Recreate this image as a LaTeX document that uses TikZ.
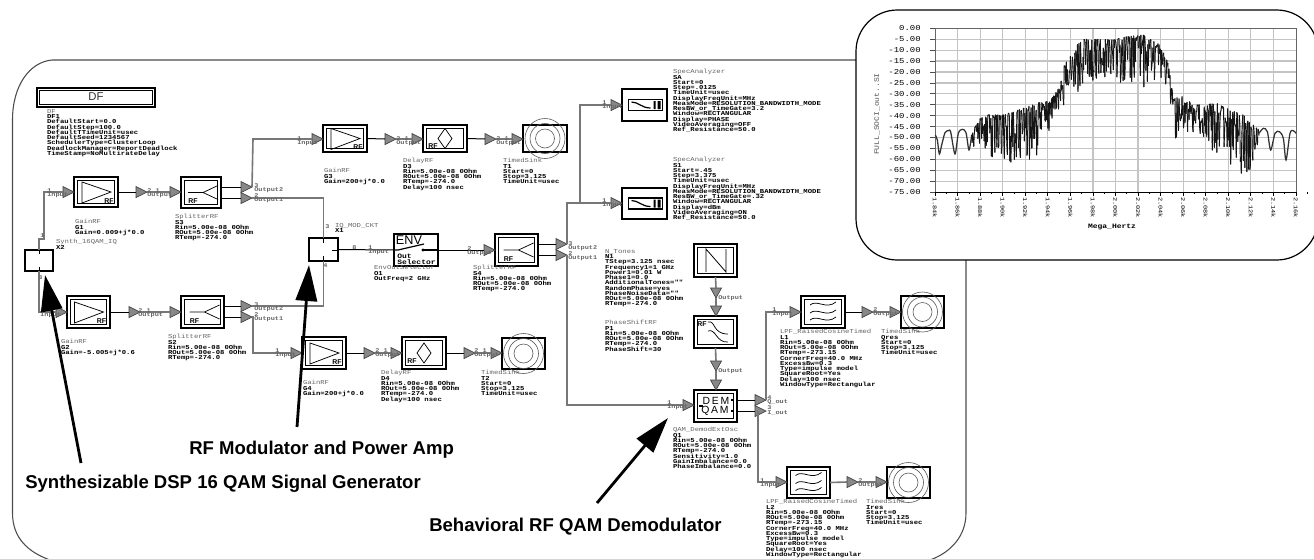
\documentclass[tikz,border=0pt]{standalone}
\usepackage{fontspec}
\setmainfont{Liberation Sans}
\newfontfamily\sch[FakeStretch=1.2]{Liberation Mono}
\usetikzlibrary{arrows.meta}
\definecolor{wg}{HTML}{777777}
\definecolor{hdr}{HTML}{666666}
\definecolor{gridc}{HTML}{C4C4C4}
\definecolor{pinc}{HTML}{888888}
\newcounter{ln}
\newcommand\schfont{\sch\bfseries\fontsize{4.53}{3.94}\selectfont}
\newcommand\envfont{\sch\bfseries\fontsize{5}{4.4}\selectfont}
\tikzset{
  blockbox/.style={draw=black,line width=1.35pt,inner sep=0pt,outer sep=0pt,fill=white},
  innerbox/.style={draw=black,line width=.6pt},
  pinst/.style={draw=black!75,line width=.5pt,fill=pinc},
  wireg/.style={draw=wg,line width=1.2pt},
  wirek/.style={draw=black,line width=.75pt},
  icon/.style={draw=black,line width=.55pt},
  sinkc/.style={draw=black!65,line width=.45pt},
  lbl/.style={anchor=north west,inner sep=0pt,outer sep=0pt,align=left,font=\schfont},
  plab/.style={anchor=west,inner sep=0pt,text=hdr,font=\sch\bfseries\fontsize{4.3}{4}\selectfont},
  rftxt/.style={inner sep=0pt,font=\bfseries\fontsize{5.2}{5}\selectfont},
  bigtxt/.style={anchor=west,inner sep=0pt,font=\bfseries\fontsize{13.9}{15}\selectfont},
  plottxt/.style={inner sep=0pt,font=\sch\fontsize{5.6}{6}\selectfont},
  annot/.style={line width=2.1pt,-{Triangle[length=27pt,width=16pt]}},
  trace/.style={draw=black!92,line width=.7pt,line cap=round},
  trace2/.style={draw=black!80,line width=.95pt},
}
% auto-named text node
\newcommand\txt[4]{\stepcounter{ln}\node[#1] (au\arabic{ln}) at (#2,#3) {#4};}
% schematic label: x, centre y of first line, grey header, remaining lines
\lineskiplimit=-5pt
\newcommand\lbl[4]{\stepcounter{ln}\node[lbl] (au\arabic{ln}) at (#1,#2-2.6) {\textcolor{hdr}{\mdseries #3}\\#4};}
\newcommand\plab[4]{\txt{plab}{#1}{#2-4.5}{#3}\txt{plab}{#1}{#2+.5}{#4}}
% blocks
\newcommand\blk[5]{\node[blockbox,minimum width={(#4-#2)*.75pt},minimum height={(#5-#3)*.75pt}] (#1) at ({(#2+#4)/2},{(#3+#5)/2}) {};}
\newcommand\blkd[5]{\blk{#1}{#2}{#3}{#4}{#5}\draw[innerbox] (#2+3.5,#3+3.5) rectangle (#4-3.5,#5-3.5);}
% pins
\newcommand\pinr[3]{\coordinate (#1) at (#2,#3);\coordinate (#1-b) at (#2-11,#3);\draw[pinst] (#2,#3) -- (#2-11,#3-5.5) -- (#2-11,#3+5.5) -- cycle;}
\newcommand\pind[3]{\coordinate (#1) at (#2,#3);\coordinate (#1-b) at (#2,#3-10);\draw[pinst] (#2,#3) -- (#2-5.5,#3-10) -- (#2+5.5,#3-10) -- cycle;}
% icons
\newcommand\ampicon[1]{\begin{scope}[shift={(#1.center)}]\draw[icon] (-14,-10) -- (-14,11) -- (15,0) -- cycle;\txt{rftxt}{13}{9}{RF}\end{scope}}
\newcommand\spliticon[1]{\begin{scope}[shift={(#1.center)}]\draw[icon] (-13,0) -- (2,0) (17,-7) -- (2,0) -- (17,7);\txt{rftxt}{-8}{9}{RF}\end{scope}}
\newcommand\delayicon[1]{\begin{scope}[shift={(#1.center)}]\draw[icon] (0,-10) -- (7,0) -- (0,10) -- (-7,0) -- cycle;\txt{rftxt}{-12}{8}{RF}\end{scope}}
\newcommand\sinkicon[1]{\begin{scope}[shift={(#1.center)}]\draw[sinkc] (0,0) circle (20) (0,0) circle (15) (0,0) circle (9.5);\end{scope}}
\newcommand\waveicon[1]{\begin{scope}[shift={(#1.center)}]\foreach \yy in {-7,1,8}{\draw[icon] (-13,\yy) .. controls (-6,\yy-6) and (3,\yy+5) .. (13,\yy-3);}\end{scope}}
\newcommand\specicon[1]{\begin{scope}[shift={(#1.center)}]\draw[draw=black,line width=1pt] (-16,-5.5) rectangle (18,5.5);\draw[draw=black,line width=.9pt] (-13,-3) .. controls (-6,-3) and (-3,3) .. (6,3);\fill[black] (9,-4) rectangle (11,4) (13,-4) rectangle (16,4);\end{scope}}
\begin{document}
\lineskiplimit=-5pt
\begin{tikzpicture}[x=.75pt,y=-.75pt]
\useasboundingbox (0,0) rectangle (1314,558);
\clip (0,0) rectangle (1314,558);
\fill[white] (0,0) rectangle (1314,558);
% outer boundary
\draw[draw=black!70,line width=.8pt] (12.5,120) .. controls (12.5,85) and (30,62) .. (52,60) -- (930,60) .. controls (950,62) and (966,85) .. (966,120) -- (966,513) .. controls (966,535) and (952,552) .. (930,560) -- (50,560) .. controls (28,552) and (12.5,538) .. (12.5,513) -- cycle;
% DF
\node[blockbox,minimum width=88.5pt,minimum height=14.25pt] (df) at (96,97.5) {};
\draw[innerbox,line width=.8pt] (39.5,90.5) rectangle (152.5,104.5);
\txt{inner sep=0pt,text=black!80,font=\fontsize{8.5}{9}\selectfont}{96}{97}{DF}
\lbl{47}{112}{DF}{DF1\\DefaultStart=0.0\\DefaultStep=100.0\\DefaultTTimeUnit=usec\\DefaultSeed=1234567\\SchedulerType=ClusterLoop\\DeadlockManager=ReportDeadlock\\TimeStamp=NoMultirateDelay}
% blocks
\blk{x1}{25}{250}{53}{271}
\blk{m1}{309}{238}{338}{261}
\blkd{g1}{74}{177}{118}{207}
\blkd{s1}{181}{177}{221}{208}
\blkd{g2}{67}{296}{110}{328}
\blkd{s2}{181}{296}{224}{328}
\blkd{g3}{323}{125}{367}{152}
\blkd{d3}{423}{125}{467}{152}
\blk{t1}{523}{125}{567}{152}
\blkd{g4}{302}{337}{346}{369}
\blkd{d4}{402}{337}{446}{369}
\blk{t2}{502}{338}{545}{369}
\blk{env}{394}{234}{438}{266}
\blkd{s4}{495}{234}{538}{266}
\blk{a1}{622}{89}{667}{121}
\blk{a2}{622}{188}{667}{219}
\blkd{nt}{694}{244}{737}{277}
\blkd{ps}{694}{316}{737}{348}
\blkd{dem}{694}{390}{737}{422}
\blkd{l1}{801}{296}{845}{328}
\blk{t3}{901}{296}{944}{328}
\blkd{l2}{787}{467}{830}{498}
\blk{t4}{887}{467}{930}{498}
% icons
\ampicon{g1}\ampicon{g2}\ampicon{g3}\ampicon{g4}
\spliticon{s1}\spliticon{s2}\spliticon{s4}
\delayicon{d3}\delayicon{d4}
\sinkicon{t1}\sinkicon{t2}\sinkicon{t3}\sinkicon{t4}
\waveicon{l1}\waveicon{l2}
\specicon{a1}\specicon{a2}
\draw[icon,line width=.7pt] (39,250) -- (39,254) (39,267) -- (39,271);
\draw[icon,line width=.7pt] (323,238) -- (323,243) (323,256) -- (323,261) (332,250) -- (338,250);
% ENV
\txt{inner sep=0pt,font=\fontsize{9.5}{10}\selectfont}{409}{240}{ENV}
\draw[icon,line width=.9pt] (394,250) -- (398,250) -- (424,244);
\fill[black] (423,250) circle (1.6);
\draw[icon,line width=.9pt] (423,250) -- (438,250);
\txt{inner sep=0pt,anchor=west,align=left,font=\envfont}{397}{259}{Out\\Selector}
% N
\draw[icon,line width=.6pt] (706,272) -- (706,249) -- (726,272) -- (726,249);
% phase shifter
\txt{rftxt}{702}{324}{RF}
\draw[icon] (708,322) .. controls (716,320) and (712,334) .. (728,334);
\draw[icon] (708,331) .. controls (716,328) and (716,343) .. (728,342);
% DEM
\txt{inner sep=0pt,font=\fontsize{7.8}{8}\selectfont}{716}{401}{D\,E\,M}
\txt{inner sep=0pt,font=\fontsize{7.8}{8}\selectfont}{715}{410.5}{Q\,A\,M}
\draw[icon,line width=.9pt] (712,393.5) -- (720,393.5) (699,406) -- (703,406) (731,400) -- (733,400) (732,410) -- (732,412);
% pins
\pinr{pg1}{74}{192}\pinr{pg1o}{147}{192}\pinr{ps1}{181}{192}
\pinr{ps1a}{252}{187}\pinr{ps1b}{252}{198}
\pinr{pg2}{67}{312}\pinr{pg2o}{140}{312}\pinr{ps2}{181}{312}
\pinr{ps2a}{252}{306}\pinr{ps2b}{252}{317}
\pinr{pg3}{323}{139}\pinr{pg3o}{396}{139}\pinr{pd3}{423}{139}\pinr{pd3o}{496}{139}\pinr{pt1}{523}{139}
\pinr{pg4}{302}{353}\pinr{pg4o}{375}{353}\pinr{pd4}{402}{353}\pinr{pd4o}{475}{353}\pinr{pt2}{502}{353}
\pinr{ps4}{495}{250}\pinr{ps4a}{567}{244}\pinr{ps4b}{567}{255}
\pinr{pa1}{622}{105}\pinr{pa2}{622}{203}
\pind{pn}{716}{298}\pind{pp}{716}{316}\pind{ppo}{716}{371}\pind{pq}{716}{390}
\pinr{pdi}{694}{405}\pinr{pdq}{766}{400}\pinr{pdo}{766}{411}
\pinr{pl1}{801}{312}\pinr{pl1o}{873}{312}\pinr{pt3}{901}{312}
\pinr{pl2}{787}{482}\pinr{pl2o}{858}{482}\pinr{pt4}{887}{482}
% wires
\coordinate (j1) at (44,239);
\draw[wireg] (x1.north) -- (39,239) -- (j1) |- (pg1-b);
\draw[wireg] (x1.south) |- (pg2-b);
\draw[wirek] (g1.east) -- (pg1o-b);\draw[wireg] (pg1o) -- (ps1-b);
\draw[wirek] (s1.east |- ps1a) -- (ps1a-b);\draw[wirek] (s1.east |- ps1b) -- (ps1b-b);
\draw[wirek] (g2.east) -- (pg2o-b);\draw[wireg] (pg2o) -- (ps2-b);
\draw[wirek] (s2.east |- ps2a) -- (ps2a-b);\draw[wirek] (s2.east |- ps2b) -- (ps2b-b);
\coordinate (j2) at (253,139);
\draw[wireg] (ps1a) -- (j2) -- (pg3-b);
\draw[wireg] (ps1b) -| (m1.north);
\draw[wireg] (m1.south) |- (ps2a);
\coordinate (j3) at (253,353);
\draw[wireg] (ps2b) -- (253,317) -- (j3) -- (pg4-b);
\draw[wirek] (g3.east) -- (pg3o-b);\draw[wireg] (pg3o) -- (pd3-b);
\draw[wirek] (d3.east) -- (pd3o-b);\draw[wireg] (pd3o) -- (pt1-b);
\draw[wirek] (g4.east) -- (pg4o-b);\draw[wireg] (pg4o) -- (pd4-b);
\draw[wirek] (d4.east) -- (pd4o-b);\draw[wireg] (pd4o) -- (pt2-b);
\draw[wirek] (m1.east) -- (env.west);
\draw[wirek] (env.east) -- (ps4-b);
\draw[wirek] (s4.east |- ps4a) -- (ps4a-b);\draw[wirek] (s4.east |- ps4b) -- (ps4b-b);
\coordinate (j4) at (567,203);
\coordinate (j5) at (580,203);
\draw[wireg] (ps4a) -- (j4) -- (pa2-b);
\draw[wireg] (j5) |- (pa1-b);
\draw[wireg] (ps4b) -- (567,405) -- (pdi-b);
\draw[wireg] (nt.south) -- (pn-b);\draw[wireg] (pn) -- (pp-b);
\draw[wireg] (ps.south) -- (ppo-b);\draw[wireg] (ppo) -- (pq-b);
\draw[wirek] (dem.east |- pdq) -- (pdq-b);\draw[wirek] (dem.east |- pdo) -- (pdo-b);
\coordinate (j6) at (766,312);
\draw[wireg] (pdq) -- (j6) -- (pl1-b);
\coordinate (j7) at (758,482);
\draw[wireg] (758,411) -- (j7) -- (pl2-b);
\draw[wirek] (l1.east) -- (pl1o-b);\draw[wireg] (pl1o) -- (pt3-b);
\draw[wireg] (l2.east) -- (pl2o-b);\draw[wireg] (pl2o) -- (pt4-b);
% pin labels
\plab{47}{195}{1}{Input}
\plab{147}{195}{2 1}{Output}
\plab{254}{190}{3}{Output2}\plab{254}{200}{2}{Output1}
\plab{40}{315}{1}{Input}
\plab{138}{315}{2 1}{Output}
\plab{254}{309}{3}{Output2}\plab{254}{319}{2}{Output1}
\plab{297}{143}{1}{Input}
\plab{396}{143}{2 1}{Output}\plab{496}{143}{2 1}{Output}
\txt{plab}{325}{227}{3}\txt{plab}{323}{266}{4}\txt{plab}{40}{236}{1}\txt{plab}{38}{278}{3}
\plab{368}{252}{1}{Input}\txt{plab}{352}{247.5}{8}
\plab{467}{253}{2}{Output}
\plab{568}{248}{3}{Output2}\plab{568}{258}{2}{Output1}
\plab{602}{107}{1}{Input}\plab{602}{205}{1}{Input}
\txt{plab}{718}{298}{Output}\txt{plab}{718}{371}{Output}
\plab{667}{407}{1}{Input}
\plab{767}{402}{4}{Q\_out}\plab{767}{412}{3}{I\_out}
\plab{760}{485}{1}{Input}\plab{858}{485}{2}{Output}
\plab{772}{314}{1}{Input}\plab{873}{314}{2}{Output}
\plab{275}{355}{1}{Input}\plab{375}{355}{2 1}{Output}\plab{474}{355}{2 1}{Output}
% instance labels
\lbl{75}{222}{GainRF}{G1\\Gain=0.009+j*0.0}
\lbl{175}{217}{SplitterRF}{S3\\Rin=5.00e-08 0Ohm\\ROut=5.00e-08 0Ohm\\RTemp=-274.0}
\lbl{56}{242}{Synth\_16QAM\_IQ}{X2}
\lbl{61}{342}{GainRF}{G2\\Gain=-5.005+j*0.6}
\lbl{168}{337}{SplitterRF}{S2\\Rin=5.00e-08 0Ohm\\ROut=5.00e-08 0Ohm\\RTemp=-274.0}
\lbl{324}{171}{GainRF}{G3\\Gain=200+j*0.0}
\lbl{403}{161}{DelayRF}{D3\\Rin=5.00e-08 0Ohm\\ROut=5.00e-08 0Ohm\\RTemp=-274.0\\Delay=100 nsec}
\lbl{503}{161}{TimedSink}{T1\\Start=0\\Stop=3.125\\TimeUnit=usec}
\lbl{335}{226}{IQ\_MOD\_CKT}{X1}
\lbl{374}{268}{EnvOutSelector}{O1\\OutFreq=2 GHz}
\lbl{473}{268}{SplitterRF}{S4\\Rin=5.00e-08 0Ohm\\ROut=5.00e-08 0Ohm\\RTemp=-274.0}
\lbl{303}{383}{GainRF}{G4\\Gain=200+j*0.0}
\lbl{381}{373}{DelayRF}{D4\\Rin=5.00e-08 0Ohm\\ROut=5.00e-08 0Ohm\\RTemp=-274.0\\Delay=100 nsec}
\lbl{481}{373}{TimedSink}{T2\\Start=0\\Stop=3.125\\TimeUnit=usec}
\lbl{673}{72}{SpecAnalyzer}{SA\\Start=0\\Step=.0125\\TimeUnit=usec\\DisplayFreqUnit=MHz\\MeasMode=RESOLUTION\_BANDWIDTH\_MODE\\ResBW\_or\_TimeGate=3.2\\Window=RECTANGULAR\\Display=PHASE\\VideoAveraging=OFF\\Ref\_Resistance=50.0}
\lbl{673}{160}{SpecAnalyzer}{S1\\Start=.45\\Step=3.375\\TimeUnit=usec\\DisplayFreqUnit=MHz\\MeasMode=RESOLUTION\_BANDWIDTH\_MODE\\ResBW\_or\_TimeGate=.32\\Window=RECTANGULAR\\Display=dBm\\VideoAveraging=ON\\Ref\_Resistance=50.0}
\lbl{605}{252}{N\_Tones}{N1\\TStep=3.125 nsec\\Frequency1=1 GHz\\Power1=0.01 W\\Phase1=0.0\\AdditionalTones=""\\RandomPhase=yes\\PhaseNoiseData=""\\ROut=5.00e-08 0Ohm\\RTemp=-274.0}
\lbl{605}{323}{PhaseShiftRF}{P1\\Rin=5.00e-08 0Ohm\\ROut=5.00e-08 0Ohm\\RTemp=-274.0\\PhaseShift=30}
\lbl{673}{430}{QAM\_DemodExtOsc}{Q1\\Rin=5.00e-08 0Ohm\\ROut=5.00e-08 0Ohm\\RTemp=-274.0\\Sensitivity=1.0\\GainImbalance=0.0\\PhaseImbalance=0.0}
\lbl{780}{332}{LPF\_RaisedCosineTimed}{L1\\Rin=5.00e-08 0Ohm\\ROut=5.00e-08 0Ohm\\RTemp=-273.15\\CornerFreq=40.0 MHz\\ExcessBw=0.3\\Type=impulse model\\SquareRoot=Yes\\Delay=100 nsec\\WindowType=Rectangular}
\lbl{881}{332}{TimedSink}{Qres\\Start=0\\Stop=3.125\\TimeUnit=usec}
\lbl{766}{502}{LPF\_RaisedCosineTimed}{L2\\Rin=5.00e-08 0Ohm\\ROut=5.00e-08 0Ohm\\RTemp=-273.15\\CornerFreq=40.0 MHz\\ExcessBw=0.3\\Type=impulse model\\SquareRoot=Yes\\Delay=100 nsec\\WindowType=Rectangular}
\lbl{866}{502}{TimedSink}{Ires\\Start=0\\Stop=3.125\\TimeUnit=usec}
% plot panel
\draw[fill=white,draw=black,line width=.9pt,rounded corners=31pt] (856,10) rectangle (1318,260);
\foreach \k in {1,...,15}{\draw[draw=gridc,line width=.9pt] (935,{28.3+\k*10.92}) -- (1296,{28.3+\k*10.92});}
\foreach \k in {1,...,15}{\draw[draw=gridc,line width=.9pt] ({935+\k*22.56},28.3) -- ({935+\k*22.56},192);}
\draw[draw=black!60,line width=.6pt] (935,192) -- (935,28.3) -- (1296,28.3) -- (1296,192);
\draw[draw=black,line width=.7pt] (930,192) -- (1296,192);
\foreach \v [count=\i from 0] in {0.00,-5.00,-10.00,-15.00,-20.00,-25.00,-30.00,-35.00,-40.00,-45.00,-50.00,-55.00,-60.00,-65.00,-70.00,-75.00}{
  \node[plottxt,anchor=east] (yt\i) at (921,{28.3+\i*10.92}) {\v};
  \draw[draw=black!70,line width=.6pt] (930,{28.3+\i*10.92}) -- (935,{28.3+\i*10.92});
}
\foreach \v [count=\i from 0] in {1.84k,1.86k,1.88k,1.90k,1.92k,1.94k,1.96k,1.98k,2.00k,2.02k,2.04k,2.06k,2.08k,2.10k,2.12k,2.14k,2.16k}{
  \node[plottxt,anchor=west,rotate=-90,font=\sch\fontsize{4.3}{5}\selectfont] (xt\i) at ({935+\i*22.56},197) {\v};
  \draw[draw=black,line width=.6pt] ({935+\i*22.56},192) -- ({935+\i*22.56},196);
  \draw[draw=black,line width=.5pt] ({935+(\i+.5)*22.56},192) -- ({935+(\i+.5)*22.56},194);
}
\node[plottxt,font=\sch\bfseries\fontsize{5}{6}\selectfont] (xaxl) at (1112,227) {Mega\_Hertz};
\node[plottxt,rotate=90,text=black!70,font=\sch\fontsize{5}{6}\selectfont] (yaxl) at (877,114) {FULL\_SOCI\_out..SI};
% spectrum trace (coordinates are in a 3x grid of the panel)
\begin{scope}[shift={(860,0)},x=.25pt,y=-.25pt]
\draw[trace2] plot[smooth] coordinates {(226,405) (232,420) (238,462) (245,435) (255,398) (265,392) (272,396) (285,462) (295,400) (307,388) (318,398) (327,450) (335,405)};
\pgfmathsetseed{17}
\xdef\lastx{335}\xdef\lasty{405}
\foreach \xa/\ta/\ba/\xb/\tb/\bb in {
 335/400/440/360/355/460, 360/355/460/385/345/475, 385/345/475/430/345/490, 430/345/490/490/325/490,
 490/325/490/530/310/465, 530/310/465/570/300/400, 570/300/390/600/260/320, 600/260/320/608/205/320,
 608/205/320/625/175/290, 625/175/290/660/120/275, 660/120/275/700/115/245, 700/115/245/760/120/240,
 760/120/240/800/110/270, 800/110/270/850/105/265, 850/105/265/900/135/240, 900/135/240/925/190/290,
 925/190/290/935/260/375, 935/260/375/945/290/435, 945/290/435/975/290/400, 975/290/400/1010/315/430,
 1010/315/430/1075/310/460, 1075/310/460/1100/325/495, 1100/325/495/1150/345/555, 1150/345/555/1180/375/495,
 1180/375/495/1197/390/440}{
  \pgfmathsetmacro\nn{int(max(1,(\xb-\xa)/1.5))}
  \foreach \k in {1,...,\nn}{
    \pgfmathsetmacro\ff{\k/\nn}
    \pgfmathsetmacro\xx{\xa+(\xb-\xa)*\ff}
    \pgfmathsetmacro\ttop{\ta+(\tb-\ta)*\ff}
    \pgfmathsetmacro\tbot{\ba+(\bb-\ba)*\ff}
    \pgfmathsetmacro\yv{\ttop+(\tbot-\ttop)*pow(rnd,2.2)}
    \draw[trace] (\lastx,\lasty) -- (\xx,\yv);
    \xdef\lastx{\xx}\xdef\lasty{\yv}
  }
}
\draw[trace2] plot[smooth] coordinates {(1197,400) (1210,385) (1222,395) (1232,450) (1245,400) (1258,395) (1270,415) (1278,480) (1290,400) (1300,392) (1308,400)};
\end{scope}
% annotations
\coordinate (a1t) at (81,463);\coordinate (a1h) at (45,275);
\coordinate (a2t) at (297,427);\coordinate (a2h) at (309,265);
\coordinate (a3t) at (597,503);\coordinate (a3h) at (668,418);
\draw[annot] (a1t) -- (a1h);
\draw[annot] (a2t) -- (a2h);
\draw[annot] (a3t) -- (a3h);
\txt{bigtxt}{25}{484}{Synthesizable DSP 16 QAM Signal Generator}
\txt{bigtxt}{189}{450}{RF Modulator and Power Amp}
\txt{bigtxt}{429}{527}{Behavioral RF QAM Demodulator}
\end{tikzpicture}
\end{document}
